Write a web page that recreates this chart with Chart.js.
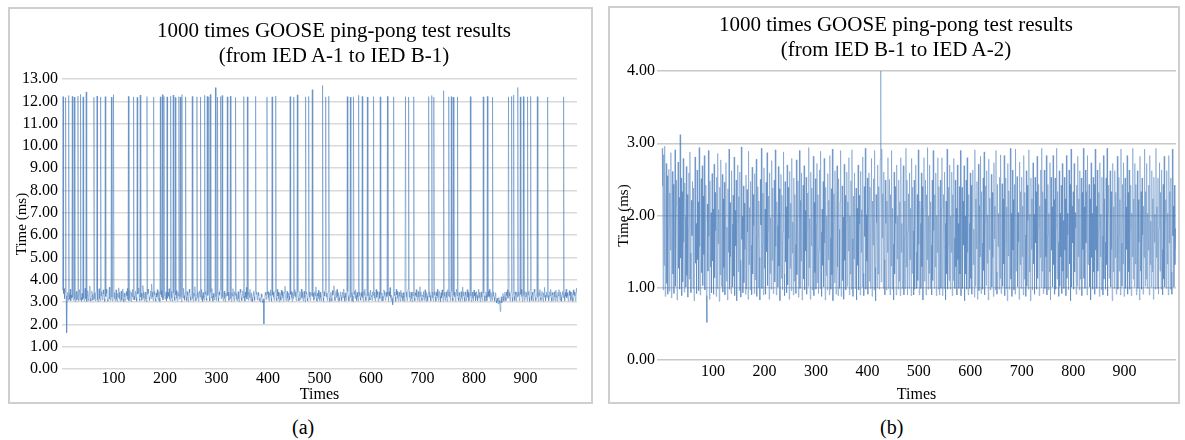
<!DOCTYPE html>
<html>
<head>
<meta charset="utf-8">
<script src="https://cdn.jsdelivr.net/npm/chart.js@4.4.1/dist/chart.umd.min.js"></script>
<style>
  body { margin: 0; background: #fff; font-family: "Liberation Serif", "Times New Roman", serif; width: 1185px; height: 440px; overflow: hidden; }
  .panel { position: absolute; border: 2px solid #cfcfcf; box-sizing: border-box; }
  .panel canvas { position: absolute; left: 0; }
  .title { position: absolute; width: 420px; font-size: 21px; line-height: 25px; text-align: center; white-space: nowrap; color: #000; }
  .cap { position: absolute; font-size: 20px; color: #000; }
</style>
</head>
<body>

<div class="panel" style="left:8px;top:7px;width:585px;height:397px">
  <canvas id="chartA" width="581" height="393" style="top:2px"></canvas>
  <div class="title" style="left:114px;top:9px">1000 times GOOSE ping-pong test results<br>(from IED A-1 to IED B-1)</div>
</div>
<div class="cap" style="left:292px;top:416px">(a)</div>

<div class="panel" style="left:608px;top:6px;width:572px;height:398px">
  <canvas id="chartB" width="568" height="394" style="top:1px"></canvas>
  <div class="title" style="left:76px;top:4px">1000 times GOOSE ping-pong test results<br>(from IED B-1 to IED A-2)</div>
</div>
<div class="cap" style="left:880px;top:416px">(b)</div>

<script>
// ping-pong delay, IED A-1 -> IED B-1 (ms), 1000 runs
const delaysA = [
  3.52,12.21,3.38,3.61,3.15,3.47,12.18,3.29,1.62,3.11,3.44,3.08,12.26,3.35,3.12,3.58,3.06,3.31,3.19,12.22,
  3.24,3.07,3.41,12.19,3.13,3.02,3.36,3.48,3.09,3.27,12.23,3.05,3.33,3.56,3.1,12.31,3.21,3.04,3.39,3.12,
  12.2,3.18,3.06,3.45,3.62,3.14,12.42,3.03,3.29,3.51,3.11,3.07,3.38,3.72,3.16,3.04,3.26,3.49,3.35,3.08,
  3.22,12.18,3.43,3.12,3.05,3.31,3.54,12.24,3.1,3.02,3.37,3.6,3.15,3.06,12.2,3.28,3.47,3.09,3.21,3.55,
  3.36,3.14,3.03,12.21,3.25,3.58,3.4,3.11,3.04,3.19,3.46,3.67,3.13,3.07,3.32,12.19,3.23,3.05,3.18,12.3,
  3.17,3.42,3.06,3.28,3.55,3.12,3.03,3.39,3.21,3.64,3.44,3.15,3.04,3.26,3.5,3.08,3.3,3.59,3.14,3.02,
  3.41,3.23,3.07,3.16,3.47,3.29,3.61,3.12,12.22,3.05,3.34,3.52,3.18,3.03,3.43,3.25,3.57,3.11,12.2,3.27,
  3.09,3.31,3.49,3.2,3.04,12.18,3.36,3.45,3.63,3.14,3.06,12.28,3.22,3.4,3.08,3.3,3.74,3.46,3.17,3.05,
  3.26,3.44,3.13,3.02,12.21,3.35,3.58,3.42,3.19,3.07,3.28,3.5,3.16,3.81,3.45,3.23,3.06,12.19,3.32,3.48,
  3.15,3.04,3.4,3.22,3.56,3.3,3.08,3.47,3.18,3.03,12.2,3.34,3.51,3.21,12.3,3.09,3.27,12.22,3.44,3.13,
  3.29,3.46,3.05,12.2,3.17,3.43,3.26,3.6,3.14,3.06,12.23,3.48,3.2,3.04,3.33,12.28,3.41,3.24,3.07,12.18,
  3.31,3.52,3.16,3.05,3.44,3.27,12.21,3.13,3.45,12.19,3.22,3.03,12.3,3.5,3.18,3.62,3.29,3.08,3.4,12.2,
  3.21,3.06,3.47,3.3,3.03,3.19,3.58,3.42,3.24,3.07,3.35,3.49,12.22,3.15,3.04,3.41,3.26,3.69,3.2,3.06,
  3.33,12.2,3.45,3.17,3.05,3.28,3.5,3.23,12.19,3.11,3.57,3.29,3.03,3.43,3.19,3.08,12.27,3.34,3.48,3.16,
  3.07,12.22,3.3,3.46,12.2,3.21,3.05,12.31,3.44,3.18,3.61,3.27,3.04,3.39,3.22,3.09,3.47,12.61,3.25,3.06,
  3.42,12.19,3.2,3.04,3.45,3.31,3.59,12.21,3.14,3.47,12.26,3.23,3.06,3.32,3.49,3.17,3.03,3.41,3.26,3.55,
  12.2,3.28,3.44,3.07,3.19,3.5,12.23,3.15,3.04,3.42,3.27,3.6,3.21,3.05,3.46,3.3,12.18,3.12,3.38,3.06,
  3.24,3.47,3.16,3.03,3.29,3.58,3.43,3.2,3.06,3.34,3.51,3.18,12.21,3.27,3.04,3.45,3.22,3.66,3.13,12.2,
  3.3,3.08,3.44,3.21,3.57,3.26,3.05,3.41,3.17,3.03,3.32,3.48,3.24,3.07,3.53,12.22,3.35,3.46,3.09,3.23,
  3.43,3.28,3.06,3.19,3.02,3.1,3.37,3.22,3.05,2.98,3.15,2.02,3.08,3.26,3.44,3.3,3.12,12.19,3.35,3.47,
  3.2,3.05,3.43,3.29,3.55,3.16,3.04,12.2,3.31,3.46,3.22,3.07,3.35,3.5,12.24,3.18,3.06,3.57,3.27,3.44,
  3.14,3.03,3.42,3.25,3.08,3.54,3.3,3.47,3.19,3.05,3.33,3.45,3.71,3.22,3.06,3.29,3.48,3.17,3.04,3.41,
  3.26,3.09,12.21,3.34,3.48,3.2,3.04,3.43,3.15,12.19,3.28,3.56,3.45,3.23,3.06,3.31,12.29,3.44,3.18,3.05,
  3.3,3.47,3.11,3.24,3.58,3.19,3.42,3.06,3.27,3.49,3.21,3.03,12.2,3.36,3.45,3.17,3.05,3.33,12.22,3.46,
  3.22,3.07,3.44,3.3,3.56,12.52,3.25,3.41,3.08,3.19,3.47,3.28,3.68,3.2,3.04,3.39,3.26,3.53,3.15,3.06,
  3.45,3.21,3.05,3.29,3.43,12.71,3.18,3.04,3.46,3.27,3.55,12.2,3.23,3.41,3.07,3.32,3.48,12.23,3.19,3.03,
  3.27,3.44,3.16,3.05,3.52,3.31,3.47,3.73,3.22,3.06,3.35,3.49,3.2,3.57,3.26,3.04,3.42,3.18,3.07,3.3,
  3.46,3.24,3.06,3.33,3.45,3.19,3.59,3.28,3.04,3.41,3.22,3.08,3.36,12.21,3.47,3.25,3.05,3.31,3.44,12.19,
  3.21,3.06,3.43,3.28,3.03,12.2,3.35,3.48,3.17,3.56,3.3,3.07,3.44,3.23,3.05,12.27,3.29,3.46,3.2,3.08,
  3.42,3.25,12.22,3.19,3.04,3.47,3.31,3.58,3.22,3.06,3.34,3.45,12.19,3.27,3.05,3.43,3.2,3.09,3.54,3.3,
  3.24,3.07,3.46,3.3,12.21,3.18,3.44,3.05,3.29,3.57,3.21,3.48,3.33,3.04,3.26,3.45,3.16,12.2,3.35,3.06,
  3.41,3.27,3.05,3.22,3.55,3.47,3.3,3.08,3.19,3.44,3.25,12.22,3.34,3.03,3.46,3.28,3.65,3.21,3.06,3.31,
  3.18,2.88,3.07,12.2,3.29,3.45,3.23,3.04,3.57,3.32,3.48,3.19,3.06,3.35,3.44,3.26,3.05,3.53,3.21,3.42,
  3.27,3.06,3.43,3.2,3.04,3.31,12.21,3.46,3.24,3.07,3.35,3.58,12.19,3.22,3.47,3.05,3.3,3.44,3.17,3.03,
  3.45,3.28,12.2,3.19,3.05,3.42,3.3,3.56,3.23,3.07,3.34,3.48,3.21,3.04,3.69,3.26,3.45,3.18,3.06,3.32,
  3.24,3.47,3.08,3.3,3.55,3.2,3.04,3.43,3.27,3.06,3.36,12.21,3.22,3.46,3.29,3.05,3.33,12.26,3.45,3.19,
  3.06,12.19,3.31,3.47,3.23,3.04,3.44,3.28,3.57,3.2,3.07,3.35,3.48,3.25,3.03,3.42,3.18,3.55,3.3,3.05,
  12.48,3.26,3.44,3.07,3.32,3.46,3.21,3.04,3.56,3.29,12.2,3.23,3.45,3.06,3.33,12.21,3.47,3.19,3.05,12.19,
  3.3,3.45,3.22,3.05,3.34,3.58,3.27,12.2,3.19,3.06,3.43,3.3,3.04,3.24,3.47,3.21,3.07,3.67,3.28,3.44,
  3.2,3.04,3.46,3.31,3.07,3.25,3.56,3.22,3.44,3.05,3.33,3.48,12.21,3.26,3.03,3.29,3.45,3.18,3.06,3.54,
  3.27,3.43,3.05,3.21,3.47,3.3,3.06,3.24,3.58,3.19,3.44,3.03,3.32,3.46,3.23,3.07,3.35,12.2,3.41,3.28,
  3.04,3.25,3.45,3.3,3.06,12.22,3.22,3.48,3.27,3.57,3.2,3.05,3.43,3.31,3.07,12.19,3.26,3.46,3.21,3.04,
  3.28,3.42,3.09,2.96,3.18,3.05,2.92,3.21,3.07,2.95,2.58,3.02,3.24,2.97,3.11,3.39,3.26,3.04,3.3,3.45,
  3.22,3.06,3.44,3.29,3.55,3.17,12.2,3.43,3.26,3.05,3.33,3.47,12.22,3.2,3.04,3.41,12.28,3.25,3.07,3.46,
  3.31,3.05,3.45,3.23,12.62,3.28,3.46,3.06,3.21,12.2,3.34,3.57,3.25,3.04,3.43,12.21,3.3,3.07,3.48,3.22,
  3.26,3.44,3.06,12.2,3.32,3.47,3.21,3.04,3.55,12.22,3.28,3.07,3.45,3.3,3.05,3.24,3.58,3.43,3.2,3.06,
  3.33,3.46,12.21,3.22,3.05,3.44,3.29,3.56,3.2,3.07,3.35,3.48,3.26,3.04,3.42,3.23,3.66,3.31,3.06,3.27,
  3.45,3.21,12.19,3.3,3.06,3.24,3.47,3.28,3.57,3.19,3.04,3.43,3.32,3.07,3.25,3.46,3.22,3.05,3.54,3.29,
  3.2,3.05,3.44,3.27,3.56,3.31,3.07,3.45,3.23,3.04,3.35,3.48,3.21,12.2,3.3,3.06,3.43,3.26,3.58,3.19,
  3.42,3.28,3.05,3.22,3.51,3.3,3.46,3.07,3.24,3.44,3.2,3.04,3.55,3.33,3.45,3.27,3.06,3.31,3.62,3.4
];

// ping-pong delay, IED B-1 -> IED A-2 (ms), 1000 runs
const delaysB = [
  2.93,2.41,0.97,2.84,1.31,2.96,0.88,2.18,2.72,1.06,2.55,0.91,1.83,2.64,0.95,2.31,1.52,2.87,0.86,2.02,
  2.61,1.19,2.43,0.92,1.68,2.91,1.02,2.14,2.49,0.83,1.93,2.74,1.27,2.25,0.98,3.12,1.41,2.52,0.89,2.33,
  1.08,2.79,1.63,0.94,2.45,1.98,1.01,2.68,1.17,2.29,0.87,1.81,2.59,1.12,2.88,1.48,0.93,2.21,1.72,2.47,
  0.99,2.38,0.82,2.03,2.81,1.34,1.89,0.92,2.63,1.39,2.19,0.96,2.94,1.57,0.9,2.12,2.51,1.21,2.69,1.03,
  2.27,1.46,2.83,0.97,1.92,2.42,0.89,0.52,2.16,1.23,2.9,1.71,0.84,2.48,1.29,2.04,0.93,2.58,1.37,2.09,
  0.91,2.71,1.14,2.32,1.79,0.88,2.53,0.99,2.86,1.61,2.08,0.81,2.39,1.18,2.77,1.02,1.69,2.57,0.94,2.23,
  1.28,2.46,0.9,1.97,2.73,1.09,1.84,0.83,2.37,1.49,2.92,0.98,2.18,1.43,0.92,2.62,1.88,1.01,2.28,1.16,
  2.81,0.89,2.07,1.58,2.49,0.82,1.91,2.7,1.22,2.26,0.96,2.6,1.38,0.87,2.95,1.67,1.99,0.93,2.41,1.07,
  2.17,1.53,0.91,2.56,0.98,2.36,1.77,0.84,2.89,1.32,2.11,0.97,2.47,1.59,0.9,2.67,1.19,2.29,1.86,0.92,
  2.58,1.11,1.98,2.78,0.88,1.7,2.4,1.0,2.2,1.42,0.83,2.5,1.87,2.93,0.99,1.6,2.31,0.9,2.66,1.27,
  2.09,0.91,2.46,1.5,2.87,1.03,1.79,2.27,0.84,2.59,1.2,1.97,0.98,2.76,1.38,2.38,0.92,1.68,2.49,1.08,
  2.91,1.57,0.9,2.19,1.86,1.01,2.68,1.3,2.37,0.82,2.02,2.57,1.13,2.28,0.97,1.78,2.88,1.19,0.89,2.47,
  1.36,2.12,0.93,2.7,1.04,2.39,1.68,0.84,2.61,1.27,2.17,0.96,2.79,1.48,1.91,0.9,2.52,1.09,2.29,1.6,
  0.92,2.77,1.18,1.98,2.48,0.87,1.63,2.9,0.99,2.21,1.37,2.59,0.83,1.88,2.42,1.12,2.69,0.97,2.07,1.51,
  2.53,0.91,1.82,2.31,1.02,2.94,1.28,1.96,0.84,2.6,1.58,2.38,0.97,1.72,2.82,0.89,2.18,1.21,2.51,0.98,
  1.87,2.72,1.07,2.29,0.92,1.52,2.63,0.99,2.89,1.77,0.88,2.09,1.31,2.47,1.01,2.79,1.62,0.83,2.39,1.17,
  1.99,0.97,2.58,1.39,2.21,0.9,2.83,1.69,0.98,2.37,1.18,2.92,0.82,1.89,2.3,1.07,2.62,1.47,0.91,2.07,
  2.69,1.29,0.89,2.51,1.81,0.99,2.19,2.9,0.88,1.61,2.41,1.1,1.98,0.84,2.71,1.38,2.28,0.97,1.91,2.6,
  1.02,2.19,1.51,2.8,0.9,1.99,1.19,2.48,0.98,2.91,1.68,0.88,2.27,1.4,2.59,0.99,1.79,2.38,0.83,2.1,
  1.31,2.7,0.97,2.28,1.88,0.9,2.61,1.49,2.08,1.01,2.81,1.2,0.89,2.4,1.71,2.93,0.98,2.01,1.37,2.52,
  0.91,2.1,2.59,1.09,2.39,0.99,1.8,2.79,0.88,2.2,1.59,2.51,0.97,2.9,1.28,0.82,2.29,1.9,1.0,2.7,
  1.19,2.4,0.98,2.01,2.78,4.0,1.08,2.92,1.69,2.3,0.99,2.6,1.39,0.9,2.49,1.89,0.97,2.2,1.49,2.8,
  0.99,1.79,2.5,0.9,2.29,1.3,2.9,0.98,2.1,1.6,0.83,2.6,1.19,2.4,1.89,0.9,2.7,1.4,1.99,0.98,
  2.49,1.09,2.19,0.89,2.8,1.49,1.89,0.99,2.39,2.69,0.9,1.69,2.2,0.99,2.93,1.29,2.49,0.9,1.79,2.3,
  0.99,2.59,1.39,2.1,0.89,2.79,1.2,2.39,1.79,0.9,2.49,0.98,1.99,2.7,1.49,0.99,2.29,1.1,2.91,1.6,
  0.9,2.2,1.89,0.99,2.59,1.29,2.4,0.83,2.1,2.8,1.09,1.69,2.49,0.9,2.29,1.39,2.94,0.98,1.99,1.2,
  2.7,0.99,2.19,1.59,0.9,2.49,1.1,2.9,1.79,0.99,2.29,1.29,2.59,0.89,2.0,1.49,2.8,0.98,2.4,0.9,
  1.69,2.49,0.99,2.1,2.8,0.89,1.39,2.29,0.99,2.6,1.89,0.83,2.2,1.19,2.92,0.98,1.59,2.39,1.1,2.7,
  0.98,1.99,1.49,2.6,0.89,2.29,1.1,2.79,1.69,0.99,2.49,1.29,2.1,0.9,2.7,1.39,1.89,0.99,2.4,1.19,
  2.9,0.89,1.79,2.39,0.99,2.2,1.59,2.69,0.82,1.99,1.19,2.49,0.98,2.8,1.49,0.9,2.29,1.89,0.99,2.59,
  1.13,2.42,0.91,2.04,2.63,1.32,1.81,0.87,2.91,1.02,2.23,1.54,2.47,0.84,1.73,2.71,0.96,2.14,1.43,2.82,
  0.92,2.33,1.62,0.98,2.52,1.24,2.88,0.9,1.93,2.41,1.03,2.62,1.34,2.01,0.83,2.78,1.53,2.24,0.97,1.82,
  2.57,1.01,2.32,1.42,0.88,2.73,1.68,2.13,0.97,2.9,1.22,0.91,2.43,1.57,2.03,0.98,2.53,1.13,2.84,0.92,
  1.92,2.44,1.02,2.23,1.33,2.83,0.89,1.64,2.52,0.99,2.12,0.82,2.72,1.44,2.34,0.98,1.83,2.93,1.12,2.03,
  0.88,2.63,1.52,2.22,0.97,2.43,0.91,2.92,1.23,1.82,2.54,1.01,2.04,1.63,0.84,2.74,1.32,2.33,0.99,2.53,
  1.43,2.13,0.9,2.83,1.12,2.32,1.73,0.88,2.62,1.02,2.42,1.93,0.98,2.91,1.22,2.02,0.82,2.52,1.53,2.23,
  0.97,2.73,1.33,2.02,0.91,2.53,1.62,2.33,0.98,2.82,1.13,1.83,2.43,0.89,2.13,1.42,2.63,1.01,2.93,1.23,
  2.33,0.92,1.92,2.63,0.99,2.23,1.43,2.83,0.9,1.72,2.43,0.97,2.03,1.22,2.73,0.83,2.53,1.52,2.12,1.01,
  2.83,1.32,2.22,0.91,2.52,0.98,1.83,2.93,1.12,2.33,1.63,0.88,2.62,1.02,2.03,1.43,2.42,0.92,2.72,1.23,
  1.93,0.99,2.53,1.52,2.23,0.89,2.83,1.13,2.03,1.73,0.97,2.63,1.33,2.43,0.82,2.92,1.01,2.13,1.62,2.33,
  0.98,2.72,1.22,2.04,1.83,0.91,2.42,1.02,2.82,1.43,2.23,0.97,2.62,1.12,1.92,2.52,0.89,2.32,1.53,2.93,
  1.13,2.12,0.99,2.63,1.62,2.33,0.9,2.83,1.32,1.93,2.43,1.01,2.23,0.83,2.73,1.42,2.03,0.98,2.53,1.22,
  2.43,0.91,2.92,1.52,2.13,0.99,2.63,1.23,1.82,2.32,0.88,2.73,1.43,2.02,0.97,2.53,1.72,0.9,2.83,1.12,
  2.23,1.63,0.98,2.52,1.32,2.93,0.89,2.03,2.42,1.13,1.83,2.62,1.01,2.33,1.53,0.82,2.72,1.22,2.12,0.99,
  2.62,1.42,2.32,0.91,2.02,2.82,0.98,1.72,2.53,1.23,2.22,0.9,2.92,1.62,1.02,2.43,1.33,2.73,0.88,1.92,
  2.52,0.99,2.12,1.53,2.83,0.91,2.32,1.22,2.63,0.98,1.83,2.42,0.89,2.03,1.43,2.93,1.12,2.23,1.01,2.72,
  1.33,2.43,0.9,1.93,2.62,0.99,2.22,1.63,0.83,2.82,1.23,2.33,0.98,2.52,1.73,0.91,2.13,1.42,2.92,1.02,
  2.33,1.12,2.72,0.99,2.03,1.52,2.42,0.9,2.83,1.32,1.92,1.01,2.62,1.22,2.23,0.84,2.53,1.63,2.02,0.98,
  2.93,1.42,2.12,0.99,2.52,0.91,1.83,2.73,1.23,2.32,0.98,2.63,1.53,0.9,2.43,1.12,2.82,1.01,1.93,2.22,
  0.99,2.62,1.33,2.03,0.9,2.83,1.62,2.33,0.98,2.52,1.22,0.91,2.92,1.72,2.13,1.01,2.42,1.32,1.82,1.53
];

const xTickValues = [100, 200, 300, 400, 500, 600, 700, 800, 900];
const xTitle = "Times";
const yTitle = "Time (ms)";
const serif = "'Liberation Serif', 'Times New Roman', serif";

function makeChart(id, values, opts) {
  return new Chart(document.getElementById(id), {
    type: "line",
    data: {
      datasets: [{
        data: values.map((v, i) => ({ x: i + 1, y: v })),
        borderColor: opts.lineColor,
        borderWidth: 1,
        pointRadius: 0,
        tension: 0
      }]
    },
    options: {
      responsive: false,
      animation: false,
      layout: { padding: opts.padding },
      plugins: { legend: { display: false }, tooltip: { enabled: false } },
      scales: {
        x: {
          type: "linear",
          min: opts.xMin,
          max: 1000,
          grid: { display: false, drawTicks: false },
          border: { display: false },
          afterFit: s => { s.height = opts.xHeight; },
          afterBuildTicks: s => { s.ticks = xTickValues.map(v => ({ value: v })); },
          ticks: {
            autoSkip: false,
            maxRotation: 0,
            padding: opts.xPad,
            color: "#000",
            font: { family: serif, size: 16 }
          },
          title: { display: true, text: xTitle, color: "#000", padding: 0, font: { family: serif, size: 16, lineHeight: 1 } }
        },
        y: {
          min: 0,
          max: opts.yMax,
          grid: { color: opts.gridColor, lineWidth: 1.5, drawTicks: false },
          border: { display: false },
          afterFit: s => { s.width = opts.yWidth; },
          ticks: {
            stepSize: 1,
            autoSkip: false,
            padding: opts.yPad,
            color: "#000",
            font: { family: serif, size: 16 },
            callback: v => v.toFixed(2)
          },
          title: { display: true, text: yTitle, color: "#000", padding: 0, font: { family: serif, size: 15, lineHeight: 1.2 } }
        }
      }
    }
  });
}

makeChart("chartA", delaysA, {
  xMin: 0, yMax: 13,
  padding: { left: 3, right: 14, top: 68, bottom: 1 },
  yWidth: 49, xHeight: 34, xPad: 0, yPad: 4,
  gridColor: "#d9d9d9",
  lineColor: "rgba(79,129,189,0.5)"
});

makeChart("chartB", delaysB, {
  xMin: -9, yMax: 4,
  padding: { left: 5, right: 2, top: 62, bottom: 0 },
  yWidth: 42, xHeight: 43, xPad: 2, yPad: 2,
  gridColor: "#c8c8c8",
  lineColor: "rgba(79,129,189,0.45)"
});
</script>
</body>
</html>
